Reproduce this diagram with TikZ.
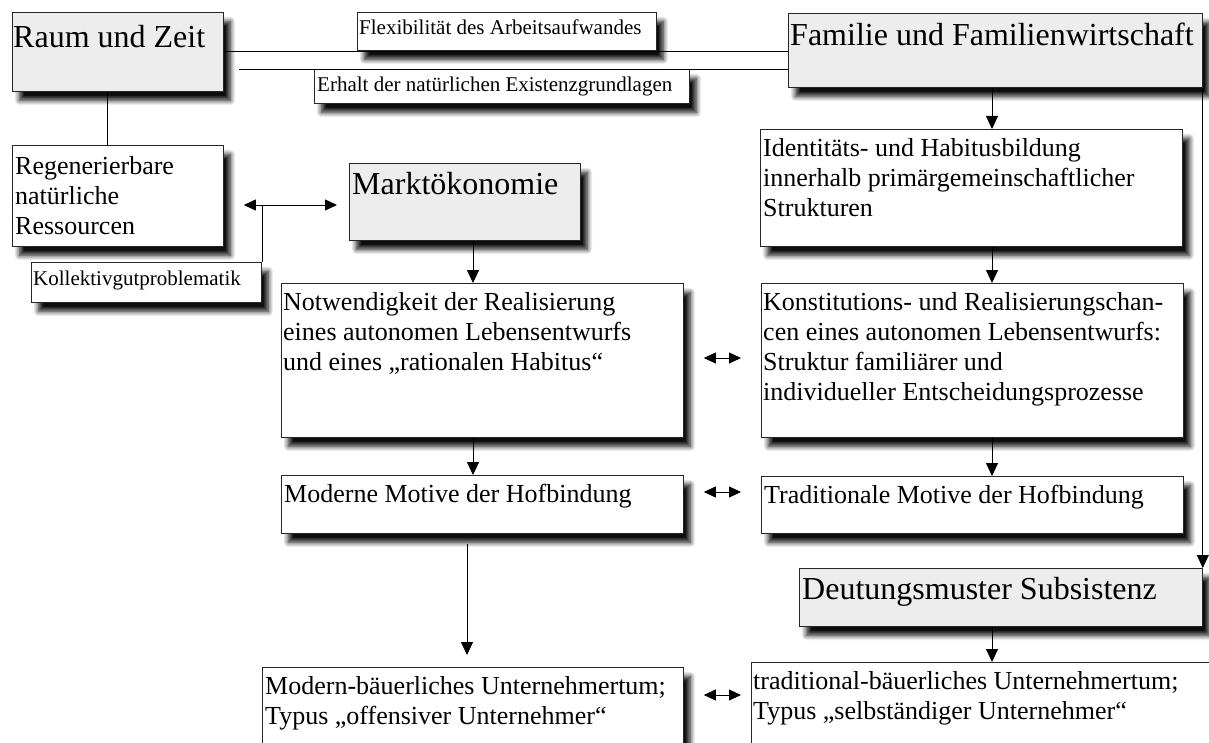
\documentclass[tikz,border=0pt]{standalone}
\usepackage{fontspec}
\setmainfont{Liberation Serif}
\usetikzlibrary{arrows.meta,shadows.blur}
\begin{document}
\begin{tikzpicture}[x=1pt,y=-1pt,
  box/.style={draw=black!85, line width=0.8pt, fill=white, anchor=north west, inner sep=0pt,
    blur shadow={shadow xshift=7pt, shadow yshift=-9pt, shadow blur radius=5pt, shadow opacity=95, shadow blur steps=8}},
  gbox/.style={box, fill=black!7},
  big/.style={anchor=base west, inner sep=0pt, font=\fontsize{32}{38}\selectfont},
  small/.style={anchor=base west, inner sep=0pt, font=\fontsize{21}{25}\selectfont},
  body/.style={anchor=north west, inner sep=0pt, align=left, font=\fontsize{26}{30}\selectfont},
  conn/.style={draw=black, line width=0.8pt},
  arr/.style={conn, -{Triangle[width=12pt,length=13pt]}},
  dbl/.style={conn, {Triangle[width=11pt,length=12pt]}-{Triangle[width=11pt,length=12pt]}}
]
\useasboundingbox (0,0) rectangle (1209,743);
\clip (0,0) rectangle (1209,743);

% boxes
\node[gbox, minimum width=211pt, minimum height=79pt] (raum) at (12,12) {};
\node[box, minimum width=299pt, minimum height=38pt] (flexi) at (357,12) {};
\node[box, minimum width=375pt, minimum height=34pt] (erhalt) at (314,69) {};
\node[gbox, minimum width=414pt, minimum height=74pt] (familie) at (788,13) {};
\node[box, minimum width=211pt, minimum height=101pt] (regen) at (12,145) {};
\node[gbox, minimum width=231pt, minimum height=77pt] (markt) at (349,163) {};
\node[box, minimum width=230pt, minimum height=40pt] (kollektiv) at (31,262) {};
\node[box, minimum width=422pt, minimum height=117pt] (ident) at (760,129) {};
\node[box, minimum width=402pt, minimum height=154pt] (notw) at (281,283) {};
\node[box, minimum width=422pt, minimum height=154pt] (konst) at (761,283) {};
\node[box, minimum width=402pt, minimum height=58pt] (moderne) at (281,475) {};
\node[box, minimum width=422pt, minimum height=57pt] (tradmot) at (761,476) {};
\node[gbox, minimum width=403pt, minimum height=58pt] (deutung) at (799,568) {};
\node[box, minimum width=421pt, minimum height=110pt] (modbauer) at (262,667) {};
\node[box, minimum width=480pt, minimum height=110pt] (tradbauer) at (751,662) {};

% texts
\node[big] (raumt) at ([shift={(1,36)}]raum.north west) {Raum und Zeit};
\node[small] (flexit) at ([shift={(2,23)}]flexi.north west) {Flexibilität des Arbeitsaufwandes};
\node[small] (erhaltt) at ([shift={(3,23)}]erhalt.north west) {Erhalt der natürlichen Existenzgrundlagen};
\node[big] (familiet) at ([shift={(2,33)}]familie.north west) {Familie und Familienwirtschaft};
\node[body] (regent) at ([shift={(3,8)}]regen.north west) {\strut Regenerierbare\\natürliche\\Ressourcen};
\node[big] (marktt) at ([shift={(3,32)}]markt.north west) {Marktökonomie};
\node[small] (kollektivt) at ([shift={(2,23)}]kollektiv.north west) {Kollektivgutproblematik};
\node[body] (identt) at ([shift={(3,6)}]ident.north west) {\strut Identitäts- und Habitusbildung\\innerhalb primärgemeinschaftlicher\\Strukturen};
\node[body] (notwt) at ([shift={(2,6)}]notw.north west) {\strut Notwendigkeit der Realisierung\\eines autonomen Lebensentwurfs\\und eines „rationalen Habitus“};
\node[body] (konstt) at ([shift={(2,6)}]konst.north west) {\strut Konstitutions- und Realisierungschan-\\cen eines autonomen Lebensentwurfs:\\Struktur familiärer und\\individueller Entscheidungsprozesse};
\node[body] (modernet) at ([shift={(3,6)}]moderne.north west) {\strut Moderne Motive der Hofbindung};
\node[body] (tradmott) at ([shift={(3,6)}]tradmot.north west) {\strut Traditionale Motive der Hofbindung};
\node[big] (deutungt) at ([shift={(3,31)}]deutung.north west) {Deutungsmuster Subsistenz};
\node[body] (modbauert) at ([shift={(3,6)}]modbauer.north west) {\strut Modern-bäuerliches Unternehmertum;\\Typus „offensiver Unternehmer“};
\node[body] (tradbauert) at ([shift={(2,6)}]tradbauer.north west) {\strut traditional-bäuerliches Unternehmertum;\\Typus „selbständiger Unternehmer“};

% helper coordinates
\coordinate (xl) at (473,0);
\coordinate (xm) at (467,0);
\coordinate (xr) at (992,0);
\coordinate (xv) at (107,0);
\coordinate (r0) at (0,205);
\coordinate (r1) at (0,358);
\coordinate (r2) at (0,492);
\coordinate (r3) at (0,695);
\coordinate (l2) at (239,69);

% connectors
\draw[conn] (raum.east) -- (raum.east -| familie.west);
\draw[conn] (l2) -- (l2 -| familie.west);
\draw[conn] (raum.south -| xv) -- (regen.north -| xv);
\draw[dbl, shorten <=20pt, shorten >=12pt] (regen.east |- r0) -- (markt.west |- r0);
\draw[conn] ([xshift=1pt]kollektiv.north east) -- ([xshift=1pt]kollektiv.north east |- r0);
\draw[arr] (markt.south -| xl) -- (notw.north -| xl);
\draw[arr] (notw.south -| xl) -- (moderne.north -| xl);
\draw[arr, shorten <=10pt, shorten >=12pt] (moderne.south -| xm) -- (modbauer.north -| xm);
\draw[arr] (familie.south -| xr) -- (ident.north -| xr);
\draw[arr] (ident.south -| xr) -- (konst.north -| xr);
\draw[arr] (konst.south -| xr) -- (tradmot.north -| xr);
\draw[arr] (deutung.south -| xr) -- (tradbauer.north -| xr);
\draw[arr] (familie.south east) -- (deutung.north east);
\draw[dbl, shorten <=20pt, shorten >=20pt] (notw.east |- r1) -- (konst.west |- r1);
\draw[dbl, shorten <=20pt, shorten >=20pt] (moderne.east |- r2) -- (tradmot.west |- r2);
\draw[dbl, shorten <=20pt, shorten >=10pt] (modbauer.east |- r3) -- (tradbauer.west |- r3);
\end{tikzpicture}
\end{document}
